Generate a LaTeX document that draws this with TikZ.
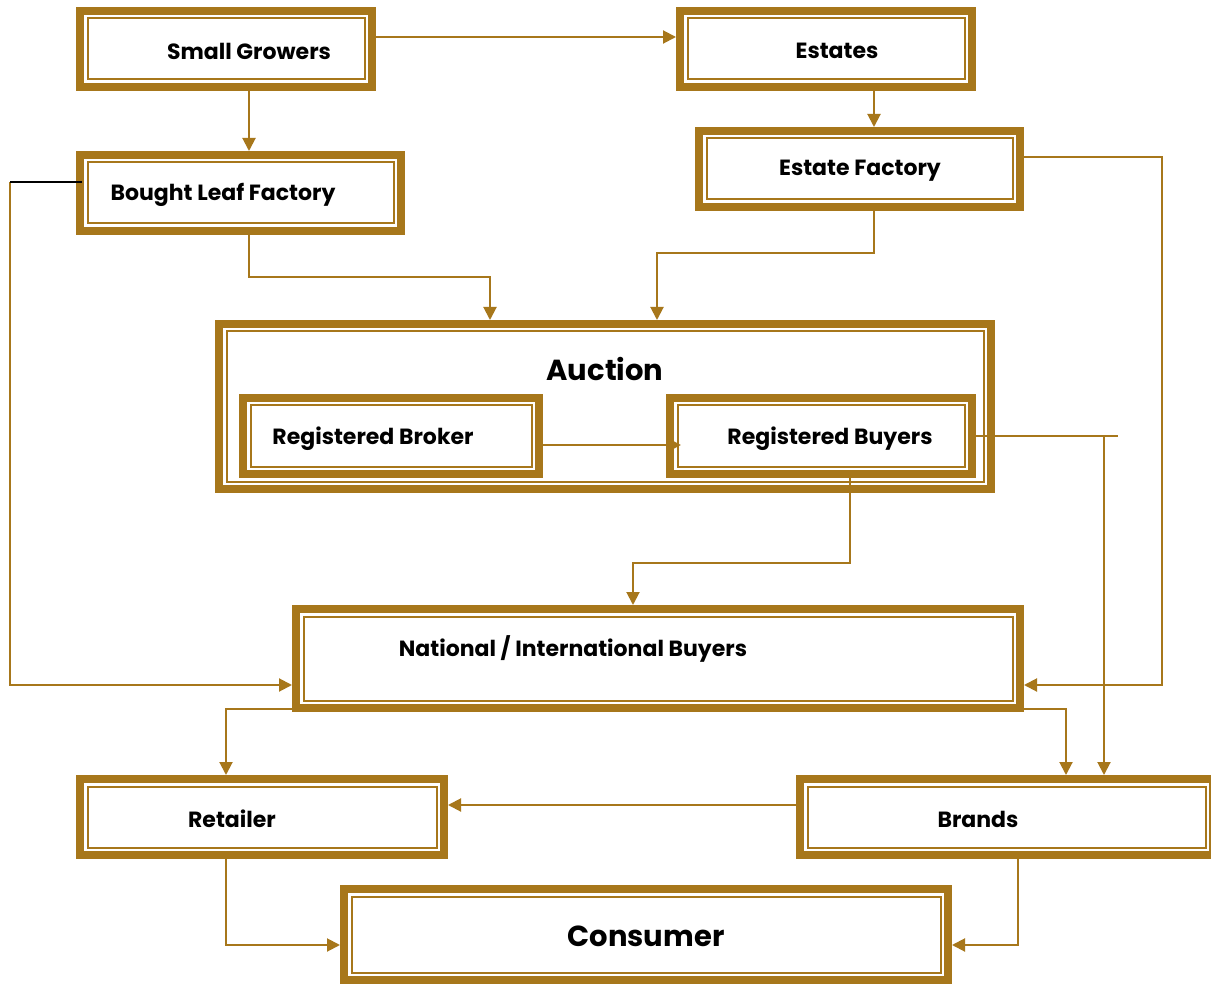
\documentclass[tikz,border=0pt]{standalone}
\usepackage{fontspec}
\setmainfont{Poppins}
\usetikzlibrary{arrows.meta,calc}
\definecolor{brn}{RGB}{167,119,27}
\begin{document}
\begin{tikzpicture}[x=1pt,y=-1pt,
  box/.style={draw=brn,line width=8pt,fill=white,inner sep=0pt,
    path picture={\draw[brn,line width=2pt]
      ([shift={(7.5pt,-7.5pt)}]path picture bounding box.north west) rectangle
      ([shift={(-7.5pt,7.5pt)}]path picture bounding box.south east);}},
  txt/.style={font=\fontsize{22}{26}\selectfont\bfseries,inner sep=0pt,text=black},
  bigtxt/.style={font=\fontsize{29}{34}\selectfont\bfseries,inner sep=0pt,text=black},
  conn/.style={draw=brn,line width=2pt},
  arr/.style={conn,-{Triangle[length=13pt,width=13pt]}}]
\fill[white] (0,0) rectangle (1211,984);
\useasboundingbox (0,0) rectangle (1211,984);
% boxes
\node[box,minimum width=292pt,minimum height=76pt] (sg) at (226,49) {};
\node[box,minimum width=292pt,minimum height=76pt] (est) at (826,49) {};
\node[box,minimum width=321pt,minimum height=76pt] (blf) at (240.5,193) {};
\node[box,minimum width=321pt,minimum height=76pt] (ef) at (859.5,169) {};
\node[box,minimum width=772pt,minimum height=165pt] (auc) at (605,406.5) {};
\node[box,minimum width=296pt,minimum height=76pt] (rbk) at (391,436) {};
\node[box,minimum width=302pt,minimum height=76pt] (rby) at (821,436) {};
\node[box,minimum width=724pt,minimum height=99pt] (nat) at (658,658.5) {};
\node[box,minimum width=364pt,minimum height=76pt] (ret) at (262,817) {};
\node[box,minimum width=413pt,minimum height=76pt] (brd) at (1006.5,817) {};
\node[box,minimum width=604pt,minimum height=91pt] (con) at (646,934.5) {};
% texts
\node[txt] (sgt) at (249,51) {Small Growers};
\node[txt] (estt) at (837,51) {Estates};
\node[txt] (blft) at (223,195) {Bought Leaf Factory};
\node[txt] (eft) at (860,171) {Estate Factory};
\node[bigtxt] (auct) at (605,369) {Auction};
\node[txt] (rbkt) at (373,439) {Registered Broker};
\node[txt] (rbyt) at (830,439) {Registered Buyers};
\node[txt] (natt) at (573,649) {National / International Buyers};
\node[txt] (rett) at (232,819) {Retailer};
\node[txt] (brdt) at (978,819) {Brands};
\node[bigtxt] (cont) at (646,936) {Consumer};
% bend coordinates
\coordinate (a1) at (0,37);
\coordinate (a2) at (249,0);
\coordinate (a3) at (874,0);
\coordinate (b1) at (249,277);
\coordinate (b2) at (490,277);
\coordinate (e1) at (874,253);
\coordinate (e2) at (657,253);
\coordinate (k1) at (10,182);
\coordinate (k2) at (10,685);
\coordinate (r1) at (1162,157);
\coordinate (r2) at (1162,685);
\coordinate (m1) at (0,445);
\coordinate (t1) at (1118,436);
\coordinate (t2) at (1104,436);
\coordinate (u1) at (850,563);
\coordinate (u2) at (633,563);
\coordinate (v1) at (1066,709);
\coordinate (w1) at (226,709);
\coordinate (z1) at (0,805);
\coordinate (p1) at (226,945);
\coordinate (q1) at (1018,945);
% connectors
\draw[arr] (sg.east |- a1) -- (est.west |- a1);
\draw[arr] (sg.south -| a2) -- (blf.north -| a2);
\draw[arr] (est.south -| a3) -- (ef.north -| a3);
\draw[arr] (blf.south -| b1) -- (b1) -- (b2) -- (auc.north -| b2);
\draw[arr] (ef.south -| e1) -- (e1) -- (e2) -- (auc.north -| e2);
\draw[arr] (k1) -- (k2) -- (nat.west |- k2);
\draw[black,line width=2pt] (k1) -- ([xshift=6pt]blf.west |- k1);
\draw[arr] (ef.east |- r1) -- (r1) -- (r2) -- (nat.east |- r2);
\draw[arr] ([xshift=-6pt]rbk.east |- m1) -- ([xshift=15pt]rby.west |- m1);
\draw[conn] (rby.east |- t1) -- (t1);
\draw[arr] (t2) -- (brd.north -| t2);
\draw[arr] (rby.south -| u1) -- (u1) -- (u2) -- (nat.north -| u2);
\draw[arr] (nat.east |- v1) -- (v1) -- (brd.north -| v1);
\draw[arr] (nat.west |- w1) -- (w1) -- (ret.north -| w1);
\draw[arr] (brd.west |- z1) -- (ret.east |- z1);
\draw[arr] (ret.south -| p1) -- (p1) -- (con.west |- p1);
\draw[arr] (brd.south -| q1) -- (q1) -- (con.east |- q1);
\end{tikzpicture}
\end{document}
